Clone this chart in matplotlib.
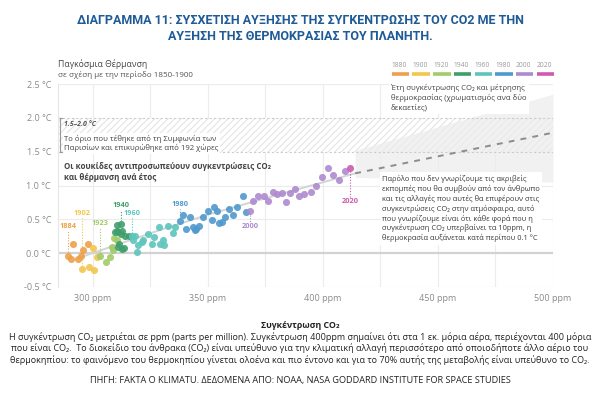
import matplotlib
matplotlib.use("Agg")
import matplotlib.pyplot as plt
import numpy as np

plt.rcParams['font.family'] = ['Open Sans', 'DejaVu Sans']

# ---------------- data ----------------
decades = [1880, 1900, 1920, 1940, 1960, 1980, 2000, 2020]
decade_colors = ['#eea04a', '#f3c64c', '#a2cb6a', '#3f9f6c', '#5dc5bd', '#4f99cd', '#ad8ad0', '#cf5aae']

ppm_1880 = [289.0, 290.4, 291.4, 293.6, 294.7, 295.8, 298.0]
tmp_1880 = [-0.04, -0.08, 0.13, -0.08, -0.04, 0.05, 0.13]
ppm_1900 = [295.1, 298.4, 299.9, 300.6, 301.6]
tmp_1900 = [-0.24, -0.21, 0.08, -0.25, -0.05]
ppm_1920 = [303.0, 305.7, 307.4, 308.1, 309.3, 310.3, 308.8]
tmp_1920 = [-0.04, -0.13, -0.06, 0.09, 0.22, 0.19, 0.05]
ppm_1940 = [309.6, 310.6, 312.0, 311.0, 312.0, 313.9, 311.0, 312.5, 313.5, 311.3, 315.8, 310.3, 312.8]
tmp_1940 = [0.31, 0.42, 0.43, 0.31, 0.29, 0.26, 0.09, 0.06, 0.07, 0.13, 0.26, 0.33, 0.33]
ppm_1960 = [316.8, 318.3, 319.0, 319.7, 321.2, 321.9, 324.0, 325.5, 326.5, 328.8, 330.3, 331.0,
            329.1, 332.7, 334.6, 335.7, 317.5]
tmp_1960 = [0.25, 0.26, 0.02, 0.12, 0.17, 0.20, 0.28, 0.13, 0.24, 0.38, 0.20, 0.12,
            0.14, 0.40, 0.30, 0.39, 0.20]
ppm_1980 = [337.8, 339.0, 340.4, 342.2, 343.3, 344.3, 346.2, 348.0, 350.1, 351.6, 352.7, 354.0,
            354.9, 356.0, 357.4, 359.3, 361.0, 362.5, 365.1, 366.5, 345.0]
tmp_1980 = [0.47, 0.56, 0.36, 0.53, 0.38, 0.34, 0.40, 0.54, 0.62, 0.49, 0.68, 0.62,
            0.45, 0.46, 0.53, 0.66, 0.57, 0.68, 0.84, 0.61, 0.36]
ppm_2000 = [368.3, 369.7, 371.9, 374.3, 376.0, 378.4, 380.1, 382.0, 383.9, 385.7, 387.8, 389.7,
            391.9, 394.6, 397.0, 399.4, 402.3, 404.5, 407.0, 409.6]
tmp_2000 = [0.62, 0.77, 0.85, 0.85, 0.77, 0.90, 0.87, 0.89, 0.76, 0.89, 0.95, 0.84,
            0.87, 0.90, 0.99, 1.13, 1.26, 1.15, 1.08, 1.21]
ppm_2020 = [411.7]
tmp_2020 = [1.26]

ppm_groups = [ppm_1880, ppm_1900, ppm_1920, ppm_1940, ppm_1960, ppm_1980, ppm_2000, ppm_2020]
tmp_groups = [tmp_1880, tmp_1900, tmp_1920, tmp_1940, tmp_1960, tmp_1980, tmp_2000, tmp_2020]

# trend line (observed) and projection
trend_ppm = [293, 310, 329, 351, 378, 414]
trend_tmp = [-0.08, 0.12, 0.34, 0.58, 0.84, 1.18]
proj_ppm = [414, 500]
proj_tmp = [1.18, 1.78]
cone_ppm = [414, 500]
cone_low = [1.12, 1.05]
cone_high = [1.52, 2.35]

# labelled years
year_labels = ['1884', '1902', '1923', '1940', '1960', '1980', '2000', '2020']
label_ppm = [289.0, 295.1, 303.0, 312.0, 316.8, 337.8, 368.3, 411.7]
label_pt = [-0.04, -0.24, -0.04, 0.43, 0.25, 0.47, 0.62, 1.26]
label_txt = [0.40, 0.58, 0.44, 0.70, 0.58, 0.72, 0.40, 0.77]
label_col = [0, 1, 2, 3, 4, 5, 6, 7]

x_ticks = [300, 350, 400, 450, 500]
x_ticklabels = ['300 ppm', '350 ppm', '400 ppm', '450 ppm', '500 ppm']
y_ticks = [-0.5, 0.0, 0.5, 1.0, 1.5, 2.0, 2.5]
y_ticklabels = ['-0.5 °C', '0.0 °C', '0.5 °C', '1.0 °C', '1.5 °C', '2.0 °C', '2.5 °C']

# ---------------- figure ----------------
W, H = 600, 400
fig = plt.figure(figsize=(6, 4), dpi=100)
fig.patch.set_facecolor('white')

def fx(px):
    return px / W

def fy(py):
    return 1 - py / H

ax = fig.add_axes([fx(58), fy(287), fx(553) - fx(58), (287 - 84) / H])
ax.set_xlim(284.8, 500)
ax.set_ylim(-0.5, 2.5)
for s in ['top', 'right', 'bottom']:
    ax.spines[s].set_visible(False)
ax.spines['left'].set_color('#e6e6e6')
ax.spines['left'].set_linewidth(0.8)

def px2ppm(px):
    return 284.8 + (px - 58) / (553 - 58) * (500 - 284.8)

# grid
for xv in np.arange(300, 501, 25):
    ax.axvline(xv, color='#ececec', lw=0.8, zorder=0)
for yv in y_ticks:
    if yv == 0.0:
        ax.axhline(yv, color='#d2d2d2', lw=1.6, zorder=0)
    elif yv in (1.5, 2.0):
        ax.axhline(yv, color='#cccccc', lw=0.8, ls=(0, (2, 2)), zorder=1)
    else:
        ax.axhline(yv, color='#ececec', lw=0.8, zorder=0)

ax.set_xticks(x_ticks)
ax.set_xticklabels(x_ticklabels)
ax.set_yticks(y_ticks)
ax.set_yticklabels(y_ticklabels)
ax.tick_params(length=0, labelsize=6.5, labelcolor='#8a8a8a', pad=5)

# Paris band (hatched)
plt.rcParams['hatch.color'] = '#e4e4e4'
plt.rcParams['hatch.linewidth'] = 0.8
ax.fill_between([284.8, 500], 1.5, 2.0, facecolor='white', edgecolor='#e4e4e4',
                hatch='/////', lw=0, zorder=0.5)
# bracket
ax.plot([285.6, 285.6], [1.5, 2.0], color='#999999', lw=0.8, zorder=2)
ax.plot([285.6, 286.6], [2.0, 2.0], color='#999999', lw=0.8, zorder=2)
ax.plot([285.6, 286.6], [1.5, 1.5], color='#999999', lw=0.8, zorder=2)

# projection cone
ax.fill_between(cone_ppm, cone_low, cone_high, color='#ececec', alpha=0.7, lw=0, zorder=0.6)

# trend line
ax.plot(trend_ppm, trend_tmp, color='#d4d4d4', lw=1.4, zorder=1.5, solid_capstyle='round')
ax.plot(proj_ppm, proj_tmp, color='#8c8c8c', lw=1.4, ls=(0, (3, 3.2)), zorder=1.5)

# points
for g, (xs, ys) in enumerate(zip(ppm_groups, tmp_groups)):
    ax.scatter(xs, ys, s=26, color=decade_colors[g], alpha=0.9, lw=0, zorder=3)

# year labels
for lab, xp, yp, yt, ci in zip(year_labels, label_ppm, label_pt, label_txt, label_col):
    col = decade_colors[ci]
    if yt > yp:
        ax.plot([xp, xp], [yp + 0.05, yt - 0.06], color=col, lw=0.8, ls=(0, (1, 1.5)), zorder=2)
    else:
        ax.plot([xp, xp], [yp - 0.05, yt + 0.06], color=col, lw=0.8, ls=(0, (1, 1.5)), zorder=2)
    ax.text(xp, yt, lab, color=col, fontsize=5.3, fontweight='bold', ha='center', va='center', zorder=4)

# Paris text
ax.text(287.5, 1.90, '1.5–2.0 °C', fontsize=5, fontstyle='italic', fontweight='bold',
        color='#555555', va='center', ha='left', zorder=4)
ax.text(287.5, 1.62,
        'Το όριο που τέθηκε από τη Συμφωνία των\nΠαρισίων και επικυρώθηκε από 192 χώρες',
        fontsize=5.6, color='#444444', va='center', ha='left', linespacing=1.25, zorder=4,
        bbox=dict(facecolor='white', edgecolor='none', pad=1.0))

# dots explanation
ax.text(287.5, 1.2, 'Οι κουκίδες αντιπροσωπεύουν συγκεντρώσεις CO₂\nκαι θέρμανση ανά έτος',
        fontsize=5.8, fontweight='bold', color='#444444', va='center', ha='left',
        linespacing=1.25, zorder=4)

# right annotation
ax.text(px2ppm(382), (253 - 174) / 68,
        'Παρόλο που δεν γνωρίζουμε τις ακριβείς\n'
        'εκπομπές που θα συμβούν από τον άνθρωπο\n'
        'και τις αλλαγές που αυτές θα επιφέρουν στις\n'
        'συγκεντρώσεις CO₂ στην ατμόσφαιρα, αυτό\n'
        'που γνωρίζουμε είναι ότι κάθε φορά που η\n'
        'συγκέντρωση CO₂ υπερβαίνει τα 10ppm, η\n'
        'θερμοκρασία αυξάνεται κατά περίπου 0.1 °C',
        fontsize=5.4, color='#3a3a3a', va='top', ha='left', linespacing=1.3, zorder=4,
        bbox=dict(facecolor='white', edgecolor='none', pad=1.5))

# legend text box
ax.text(px2ppm(391), 2.50,
        'Έτη συγκέντρωσης CO₂ και μέτρησης\nθερμοκρασίας (χρωματισμός ανα δύο\nδεκαετίες)',
        fontsize=5.6, color='#444444', va='top', ha='left', linespacing=1.3, zorder=4,
        bbox=dict(facecolor='white', edgecolor='none', pad=1.5))

# colour legend (figure coords)
for i, (d, c) in enumerate(zip(decades, decade_colors)):
    x0 = 391.7 + i * 20.7
    fig.add_artist(plt.Line2D([fx(x0), fx(x0 + 17.5)], [fy(74), fy(74)], color=c, lw=2.6,
                              solid_capstyle='butt'))
    fig.text(fx(x0), fy(65.5), str(d), fontsize=4.8, color='#999999', ha='left', va='center')

# axis title (top-left)
fig.text(fx(58), fy(64), 'Παγκόσμια Θέρμανση', fontsize=6.2, color='#444444', ha='left', va='center')
fig.text(fx(58), fy(75), 'σε σχέση με την περίοδο 1850-1900', fontsize=5.8, color='#555555',
         ha='left', va='center')

# main title
fig.text(0.5, fy(20), 'ΔΙΑΓΡΑΜΜΑ 11: ΣΥΣΧΕΤΙΣΗ ΑΥΞΗΣΗΣ ΤΗΣ ΣΥΓΚΕΝΤΡΩΣΗΣ ΤΟΥ CO2 ΜΕ ΤΗΝ',
         fontsize=9, fontweight='bold', color='#1f5b96', ha='center', va='center',
         family=['Roboto', 'DejaVu Sans'])
fig.text(0.5, fy(37), 'ΑΥΞΗΣΗ ΤΗΣ ΘΕΡΜΟΚΡΑΣΙΑΣ ΤΟΥ ΠΛΑΝΗΤΗ.',
         fontsize=9, fontweight='bold', color='#1f5b96', ha='center', va='center',
         family=['Roboto', 'DejaVu Sans'])

# x-axis title & footnotes
fig.text(0.5, fy(326), 'Συγκέντρωση CO₂', fontsize=6.3, fontweight='bold', color='#222222',
         ha='center', va='center')
foot = ['Η συγκέντρωση CO₂ μετριέται σε ppm (parts per million). Συγκέντρωση 400ppm σημαίνει ότι στα 1 εκ. μόρια αέρα, περιέχονται 400 μόρια',
        'που είναι CO₂.  Το διοκείδιο του άνθρακα (CO₂) είναι υπεύθυνο για την κλιματική αλλαγή περισσότερο από οποιοδήποτε άλλο αέριο του',
        'θερμοκηπίου: το φαινόμενο του θερμοκηπίου γίνεται ολοένα και πιο έντονο και για το 70% αυτής της μεταβολής είναι υπεύθυνο το CO₂.']
for i, line in enumerate(foot):
    fig.text(0.5, fy(337 + i * 11.3), line, fontsize=6.5, color='#222222', ha='center', va='center')

fig.text(0.5, fy(380), 'ΠΗΓΗ: FAKTA O KLIMATU. ΔΕΔΟΜΕΝΑ ΑΠΟ: NOAA, NASA GODDARD INSTITUTE FOR SPACE STUDIES',
         fontsize=6.6, color='#222222', ha='center', va='center')

fig.savefig('out.png', dpi=100, facecolor='white')
